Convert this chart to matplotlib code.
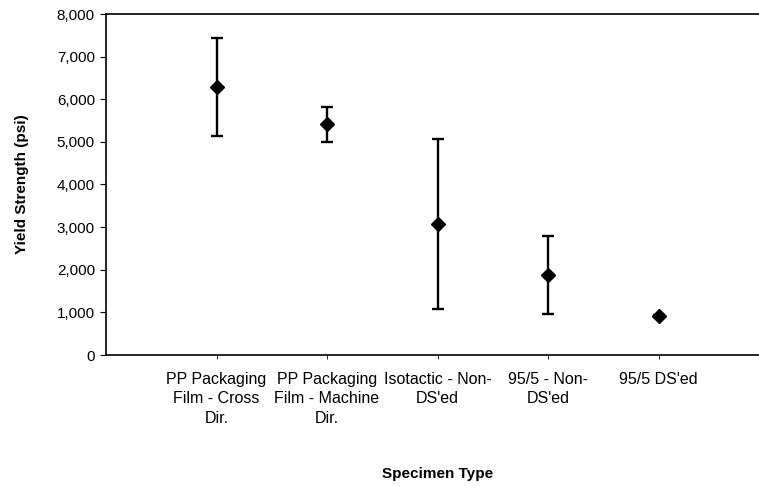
import matplotlib.pyplot as plt
import numpy as np

plt.rcParams['font.family'] = ['Liberation Sans', 'DejaVu Sans']

categories = ['PP Packaging\nFilm - Cross\nDir.',
              'PP Packaging\nFilm - Machine\nDir.',
              'Isotactic - Non-\nDS\'ed',
              '95/5 - Non-\nDS\'ed',
              '95/5 DS\'ed']
yield_mean = [6290, 5420, 3085, 1880, 925]
err_upper = [7430, 5810, 5065, 2790, 950]
err_lower = [5140, 5005, 1090, 960, 900]

x = np.arange(1, len(categories) + 1)
mean = np.array(yield_mean)
yerr = [mean - np.array(err_lower), np.array(err_upper) - mean]

fig = plt.figure(figsize=(7.59, 4.86), dpi=100)
ax = fig.add_axes([106 / 759, 131 / 486, 663 / 759, 341 / 486])

ax.errorbar(x, mean, yerr=yerr, fmt='D', color='black', markersize=7,
            elinewidth=1.7, capsize=4.5, capthick=1.7, ecolor='black')

ax.set_xlim(0, 6)
ax.set_ylim(0, 8000)
ax.set_yticks(np.arange(0, 8001, 1000))
ax.set_yticklabels([f'{v:,}' for v in range(0, 8001, 1000)])
ax.set_xticks(x)
ax.set_xticklabels(categories, linespacing=1.38)

for s in ['left', 'top', 'bottom', 'right']:
    ax.spines[s].set_linewidth(1.2)

ax.tick_params(axis='y', direction='out', length=4, width=0.8, labelsize=11, pad=4)
ax.tick_params(axis='x', direction='out', length=3, width=0.6, labelsize=11.5, pad=9)

ax.set_ylabel('Yield Strength (psi)', fontsize=11, fontweight='bold', labelpad=20)
ax.set_xlabel('Specimen Type', fontsize=11, fontweight='bold', labelpad=30)

fig.savefig('out.png', dpi=100)
